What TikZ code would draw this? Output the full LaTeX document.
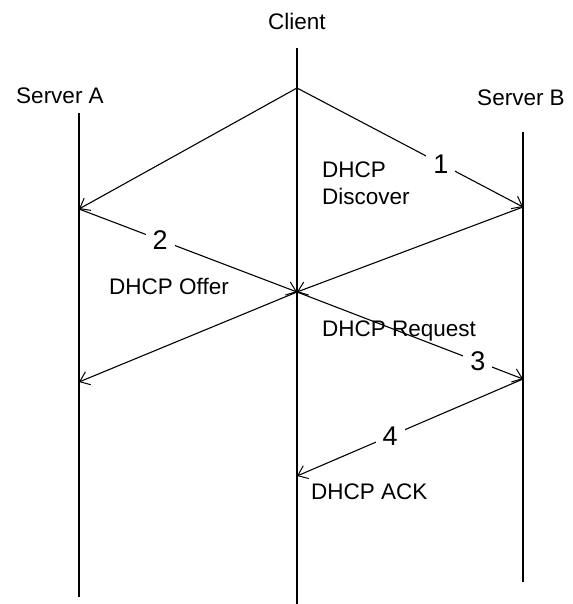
\documentclass[tikz,border=0pt]{standalone}
\usepackage{fontspec}
\setmainfont{Liberation Sans}
\usetikzlibrary{arrows.meta}
\begin{document}
\begin{tikzpicture}[x=1pt,y=-1pt,
  lifeline/.style={line width=1.5pt},
  msg/.style={line width=1.1pt, -{Straight Barb[length=9pt,width=14pt,line width=1pt]}},
  lbl/.style={font=\fontsize{22.5}{27}\selectfont, inner sep=0pt},
  num/.style={font=\fontsize{27}{30}\selectfont, fill=white, inner xsep=7pt, inner ysep=1pt}]
\useasboundingbox[fill=white] (0,0) rectangle (572,604);
% participants
\node[lbl] (client) at (297,21) {Client};
\node[lbl] (serverA) at (60,96) {Server A};
\node[lbl] (serverB) at (521,98) {Server B};
% lifelines
\coordinate (cTop) at (297,48);  \coordinate (cBot) at (297,604);
\coordinate (aTop) at (79,113);  \coordinate (aBot) at (79,597);
\coordinate (bTop) at (523,132); \coordinate (bBot) at (523,582);
\draw[lifeline] (cTop) -- (cBot);
\draw[lifeline] (aTop) -- (aBot);
\draw[lifeline] (bTop) -- (bBot);
% message points
\coordinate (c1) at (297,88);
\coordinate (a1) at (79,209);
\coordinate (b1) at (523,207);
\coordinate (c2) at (297,292);
\coordinate (a2) at (79,382);
\coordinate (b2) at (523,379);
\coordinate (c3) at (297,476);
% messages
\draw[msg] (c1) -- (a1);
\draw[msg] (c1) -- node[num, pos=0.637] (n1) {1} (b1);
\draw[msg] (a1) -- node[num, pos=0.372] (n2) {2} (c2);
\draw[msg] (b1) -- (c2);
\draw[msg] (c2) -- (a2);
\draw[msg] (c2) -- node[num, pos=0.80] (n3) {3} (b2);
\draw[msg] (b2) -- node[num, pos=0.588] (n4) {4} (c3);
% labels
\node[lbl, anchor=west, align=left] (discover) at (322,183) {DHCP\\Discover};
\node[lbl, anchor=west] (offer) at (109,286) {DHCP Offer};
\node[lbl, anchor=west] (request) at (322,331) {DHCP Request};
\node[lbl, anchor=west] (ack) at (311,492) {DHCP ACK};
\end{tikzpicture}
\end{document}
